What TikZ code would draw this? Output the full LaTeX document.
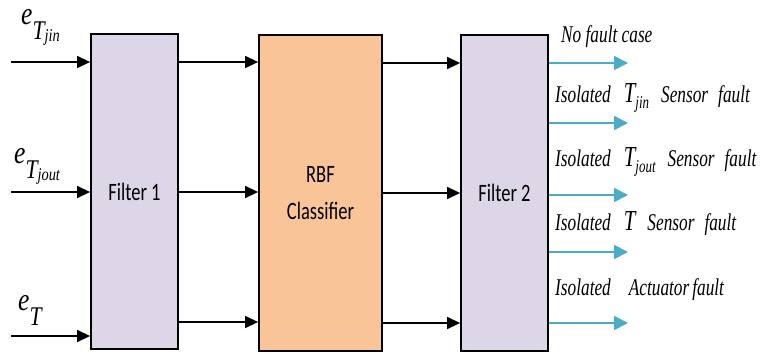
\documentclass[tikz,border=0pt]{standalone}
\usepackage{fontspec}
\usetikzlibrary{arrows.meta}
\newfontfamily\boxfont[FakeStretch=0.74]{Carlito}
\newfontfamily\lab[FakeStretch=0.72]{Liberation Serif}
\newfontfamily\labl[FakeStretch=0.8]{Liberation Serif}
\definecolor{lav}{RGB}{220,214,230}
\definecolor{peach}{RGB}{248,196,152}
\definecolor{bluearr}{RGB}{75,172,198}
\newcommand{\esub}[1]{{\fontsize{32}{32}\labl\itshape e}\raisebox{-15pt}{\fontsize{27}{27}\labl\itshape T\raisebox{-2pt}{\fontsize{18}{18}\labl\itshape #1}}}
\newcommand{\tsub}[1]{{\fontsize{29}{29}\lab\itshape T}\raisebox{-6pt}{\fontsize{18}{18}\lab\itshape #1}}
\begin{document}
\begin{tikzpicture}[x=1pt,y=-1pt,
  blk/.style={draw=black,line width=1.8pt,minimum width=#1,inner sep=0pt},
  blackarr/.style={line width=1.4pt,-{Triangle[length=13pt,width=12pt]}},
  bluea/.style={draw=bluearr,line width=1.8pt,-{Triangle[length=14pt,width=14pt]},color=bluearr},
  lbl/.style={anchor=base west,inner sep=0pt,font=\fontsize{24}{24}\lab\itshape}]
\useasboundingbox (0,0) rectangle (762,353);
\node[blk=87pt,fill=lav,minimum height=315pt,font=\fontsize{25}{25}\boxfont] (F1) at (134.5,191.5) {Filter 1};
\node[blk=123pt,fill=peach,minimum height=316pt,font=\fontsize{25}{37}\boxfont,align=center] (R) at (320.5,193) {RBF\\Classifier};
\node[blk=87pt,fill=lav,minimum height=316pt,font=\fontsize{25}{25}\boxfont] (F2) at (504.5,193) {Filter 2};
% inputs
\coordinate (i1) at (11,62);
\coordinate (i2) at (11,192);
\coordinate (i3) at (11,336);
\draw[blackarr] (i1) -- (i1 -| F1.west);
\draw[blackarr] (i2) -- (i2 -| F1.west);
\draw[blackarr] (i3) -- (i3 -| F1.west);
% F1 -> R
\coordinate (a1) at (180,62);
\coordinate (a2) at (180,192);
\coordinate (a3) at (180,322);
\draw[blackarr] (a1 -| F1.east) -- (a1 -| R.west);
\draw[blackarr] (a2 -| F1.east) -- (a2 -| R.west);
\draw[blackarr] (a3 -| F1.east) -- (a3 -| R.west);
% R -> F2
\coordinate (b1) at (400,63);
\coordinate (b2) at (400,193);
\coordinate (b3) at (400,323);
\draw[blackarr] (b1 -| R.east) -- (b1 -| F2.west);
\draw[blackarr] (b2 -| R.east) -- (b2 -| F2.west);
\draw[blackarr] (b3 -| R.east) -- (b3 -| F2.west);
% outputs
\coordinate (o1) at (628,63);
\coordinate (o2) at (628,123);
\coordinate (o3) at (628,195);
\coordinate (o4) at (628,252);
\coordinate (o5) at (628,323);
\draw[bluea] (o1 -| F2.east) -- (o1);
\draw[bluea] (o2 -| F2.east) -- (o2);
\draw[bluea] (o3 -| F2.east) -- (o3);
\draw[bluea] (o4 -| F2.east) -- (o4);
\draw[bluea] (o5 -| F2.east) -- (o5);
% input labels
\node[anchor=base west,inner sep=0pt] (l1) at (21,25) {\esub{jin}};
\node[anchor=base west,inner sep=0pt] (l2) at (14,163) {\esub{jout}};
\node[anchor=base west,inner sep=0pt] (l3) at (18,310) {\esub{}};
% output labels
\node[lbl] (t1) at (561,43) {No fault case};
\node[lbl] (t2) at (555,102) {Isolated\hspace{13pt}\tsub{jin}\hspace{12pt}Sensor\hspace{10pt}fault};
\node[lbl] (t3) at (555,166) {Isolated\hspace{13pt}\tsub{jout}\hspace{12pt}Sensor\hspace{10pt}fault};
\node[lbl] (t4) at (555,230) {Isolated\hspace{13pt}{\fontsize{29}{29}\lab\itshape T}\hspace{12pt}Sensor\hspace{10pt}fault};
\node[lbl] (t5) at (555,295) {Isolated\hspace{18pt}Actuator\hspace{3pt}fault};
\end{tikzpicture}
\end{document}
